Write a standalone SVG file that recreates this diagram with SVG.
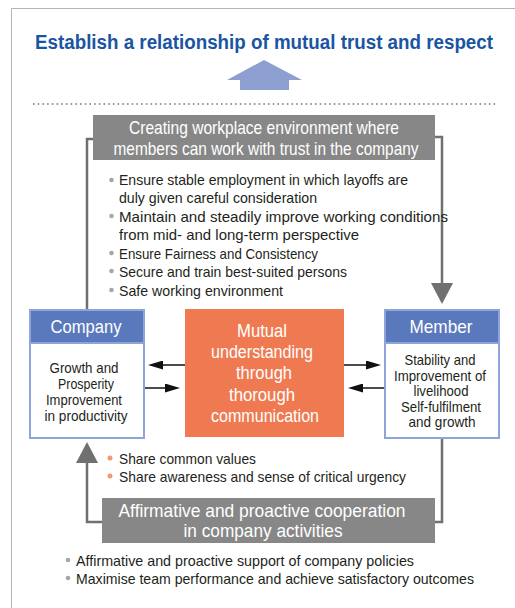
<svg xmlns="http://www.w3.org/2000/svg" width="515" height="608" viewBox="0 0 515 608">
<defs>
<style>
text{font-family:"Liberation Sans",Arial,sans-serif;}
.title{font-size:19.5px;font-weight:bold;fill:#1a55a3;}
.hdr{font-size:18.5px;fill:#ffffff;}
.bul{font-size:15px;fill:#231f20;}
.nodehd{font-size:18.5px;fill:#ffffff;}
.body{font-size:14.5px;fill:#231f20;}
.mut{font-size:18px;fill:#ffffff;}
.gbox{fill:#878787;}
.loop{fill:none;stroke:#707070;stroke-width:2.5;}
.blk{fill:none;stroke:#111;stroke-width:1.5;}
.dotg{fill:#a6a6a6;}
.doto{fill:#f09a72;}
</style>
<marker id="gh" markerUnits="userSpaceOnUse" viewBox="0 0 21 22" markerWidth="21" markerHeight="22" refX="0" refY="11" orient="auto">
<path d="M0,0 L21,11 L0,22 Z" fill="#707070"/>
</marker>
<marker id="bh" markerUnits="userSpaceOnUse" viewBox="0 0 15 9" markerWidth="15" markerHeight="9" refX="0" refY="4.5" orient="auto">
<path d="M0,0 L15,4.5 L0,9 Z" fill="#111"/>
</marker>
</defs>
<rect width="515" height="608" fill="#ffffff"/>
<path d="M11.5,608 V8.5 H515" fill="none" stroke="#b4b4b4" stroke-width="1"/>
<g id="goal">
<text class="title" x="264" y="49" text-anchor="middle" textLength="458" lengthAdjust="spacingAndGlyphs">Establish a relationship of mutual trust and respect</text>
<polygon points="264,60 302,80 289,80 289,90 240,90 240,80 227,80" fill="#8c9fd0"/>
</g>
<line x1="33" y1="104" x2="497" y2="104" stroke="#9a9a9a" stroke-width="2" stroke-dasharray="1.6 3.1"/>
<g id="connectors">
<path class="loop" d="M93,139 H87 V309"/>
<path class="loop" d="M435,137 H442 V283" marker-end="url(#gh)"/>
<path class="loop" d="M442,438 V522 H435"/>
<path class="loop" d="M102,522 H87 V463" marker-end="url(#gh)"/>
<path class="blk" d="M185,365 H163" marker-end="url(#bh)"/>
<path class="blk" d="M144,388 H165" marker-end="url(#bh)"/>
<path class="blk" d="M344,365 H366" marker-end="url(#bh)"/>
<path class="blk" d="M384,388 H363" marker-end="url(#bh)"/>
</g>
<g id="workplace">
<rect class="gbox" x="93" y="115" width="342" height="45"/>
<text class="hdr" x="264" y="134" text-anchor="middle" textLength="270" lengthAdjust="spacingAndGlyphs">Creating workplace environment where</text>
<text class="hdr" x="266" y="155" text-anchor="middle" textLength="305" lengthAdjust="spacingAndGlyphs">members can work with trust in the company</text>
</g>
<g id="workplace-bullets">
<circle class="dotg" cx="111.5" cy="180" r="2.3"/>
<circle class="dotg" cx="111.5" cy="216" r="2.3"/>
<circle class="dotg" cx="111.5" cy="253" r="2.3"/>
<circle class="dotg" cx="111.5" cy="271" r="2.3"/>
<circle class="dotg" cx="111.5" cy="290" r="2.3"/>
<text class="bul" x="119" y="185" textLength="289" lengthAdjust="spacingAndGlyphs">Ensure stable employment in which layoffs are</text>
<text class="bul" x="119" y="203" textLength="198" lengthAdjust="spacingAndGlyphs">duly given careful consideration</text>
<text class="bul" x="119" y="222" textLength="329" lengthAdjust="spacingAndGlyphs">Maintain and steadily improve working conditions</text>
<text class="bul" x="119" y="240" textLength="240" lengthAdjust="spacingAndGlyphs">from mid- and long-term perspective</text>
<text class="bul" x="119" y="259" textLength="199" lengthAdjust="spacingAndGlyphs">Ensure Fairness and Consistency</text>
<text class="bul" x="119" y="277" textLength="228" lengthAdjust="spacingAndGlyphs">Secure and train best-suited persons</text>
<text class="bul" x="119" y="296" textLength="164" lengthAdjust="spacingAndGlyphs">Safe working environment</text>
</g>
<g id="company">
<rect x="30" y="310" width="114" height="128" fill="#ffffff" stroke="#8fa5d9" stroke-width="2"/>
<rect x="30" y="310" width="114" height="33" fill="#5a79bd" stroke="#8fa5d9" stroke-width="2"/>
<text class="nodehd" x="86" y="333" text-anchor="middle" textLength="71" lengthAdjust="spacingAndGlyphs">Company</text>
<text class="body" x="84" y="373" text-anchor="middle" textLength="69" lengthAdjust="spacingAndGlyphs">Growth and</text>
<text class="body" x="86" y="389" text-anchor="middle" textLength="56" lengthAdjust="spacingAndGlyphs">Prosperity</text>
<text class="body" x="84" y="405" text-anchor="middle" textLength="76" lengthAdjust="spacingAndGlyphs">Improvement</text>
<text class="body" x="86" y="421" text-anchor="middle" textLength="83" lengthAdjust="spacingAndGlyphs">in productivity</text>
</g>
<g id="mutual">
<rect x="185" y="309" width="159" height="128" fill="#ef7a51"/>
<text class="mut" x="262" y="337" text-anchor="middle" textLength="50" lengthAdjust="spacingAndGlyphs">Mutual</text>
<text class="mut" x="262" y="358" text-anchor="middle" textLength="102" lengthAdjust="spacingAndGlyphs">understanding</text>
<text class="mut" x="264" y="379" text-anchor="middle" textLength="56" lengthAdjust="spacingAndGlyphs">through</text>
<text class="mut" x="262" y="401" text-anchor="middle" textLength="66" lengthAdjust="spacingAndGlyphs">thorough</text>
<text class="mut" x="265" y="422" text-anchor="middle" textLength="108" lengthAdjust="spacingAndGlyphs">communication</text>
</g>
<g id="member">
<rect x="385" y="310" width="114" height="128" fill="#ffffff" stroke="#8fa5d9" stroke-width="2"/>
<rect x="385" y="310" width="114" height="33" fill="#5a79bd" stroke="#8fa5d9" stroke-width="2"/>
<text class="nodehd" x="441" y="333" text-anchor="middle" textLength="63" lengthAdjust="spacingAndGlyphs">Member</text>
<text class="body" x="440" y="365" text-anchor="middle" textLength="71" lengthAdjust="spacingAndGlyphs">Stability and</text>
<text class="body" x="440" y="381" text-anchor="middle" textLength="92" lengthAdjust="spacingAndGlyphs">Improvement of</text>
<text class="body" x="441" y="396" text-anchor="middle" textLength="55" lengthAdjust="spacingAndGlyphs">livelihood</text>
<text class="body" x="441" y="412" text-anchor="middle" textLength="80" lengthAdjust="spacingAndGlyphs">Self-fulfilment</text>
<text class="body" x="442" y="427" text-anchor="middle" textLength="67" lengthAdjust="spacingAndGlyphs">and growth</text>
</g>
<g id="share-bullets">
<circle class="doto" cx="110" cy="458" r="2.5"/>
<circle class="doto" cx="110" cy="476" r="2.5"/>
<text class="bul" x="119" y="464" textLength="137" lengthAdjust="spacingAndGlyphs">Share common values</text>
<text class="bul" x="119" y="482" textLength="287" lengthAdjust="spacingAndGlyphs">Share awareness and sense of critical urgency</text>
</g>
<g id="cooperation">
<rect class="gbox" x="102" y="498" width="333" height="45"/>
<text class="hdr" x="262" y="517" text-anchor="middle" textLength="287" lengthAdjust="spacingAndGlyphs">Affirmative and proactive cooperation</text>
<text class="hdr" x="263" y="537" text-anchor="middle" textLength="159" lengthAdjust="spacingAndGlyphs">in company activities</text>
</g>
<g id="cooperation-bullets">
<circle class="dotg" cx="68" cy="560" r="2.3"/>
<circle class="dotg" cx="68" cy="578" r="2.3"/>
<text class="bul" x="76" y="566" textLength="338" lengthAdjust="spacingAndGlyphs">Affirmative and proactive support of company policies</text>
<text class="bul" x="76" y="584" textLength="398" lengthAdjust="spacingAndGlyphs">Maximise team performance and achieve satisfactory outcomes</text>
</g>
</svg>
